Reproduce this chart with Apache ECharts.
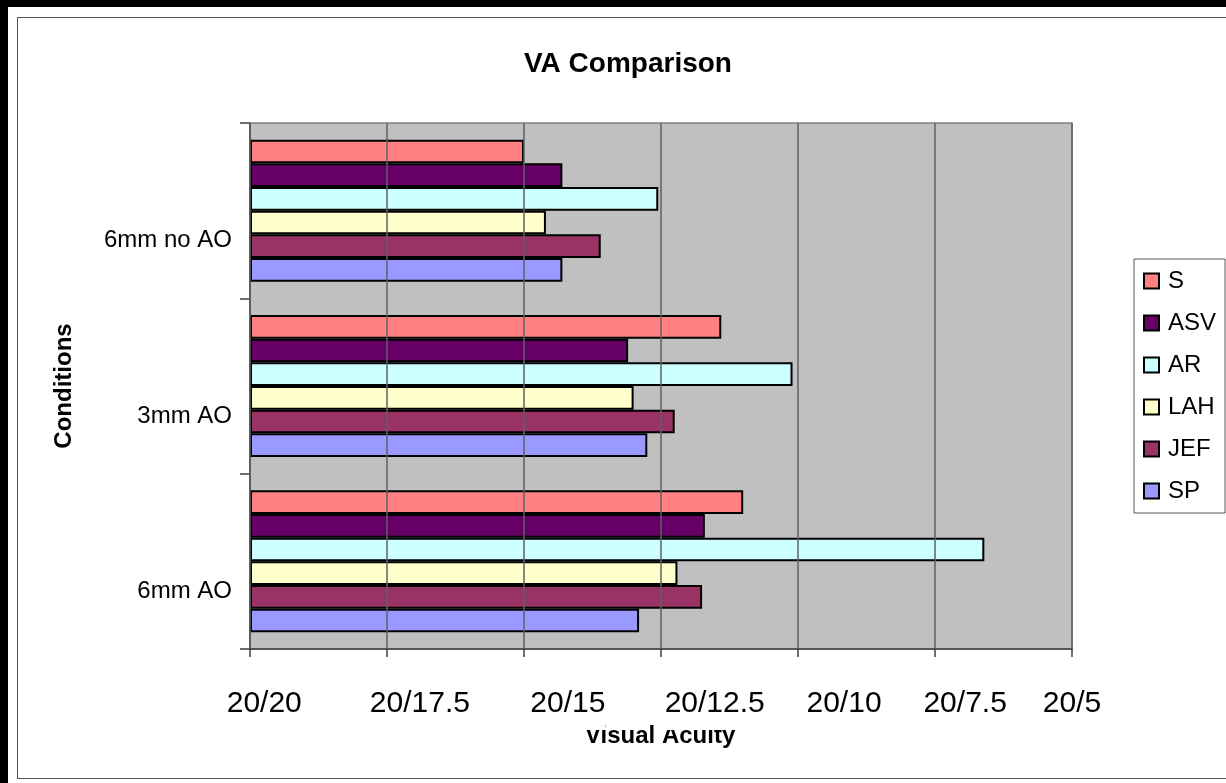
<!DOCTYPE html>
<html>
<head>
<meta charset="utf-8">
<script src="https://cdn.jsdelivr.net/npm/echarts@6/dist/echarts.min.js"></script>
<style>
  html, body { margin: 0; padding: 0; background: #000; }
  #paper { position: absolute; left: 8px; top: 7px; width: 1218px; height: 776px; background: #fff; }
  #frame { position: absolute; left: 17px; top: 17px; width: 1220px; height: 762px; border: 1px solid #555; box-sizing: border-box; }
  #chart { position: absolute; left: 0; top: 0; width: 1226px; height: 783px; }
</style>
</head>
<body>
<div id="paper"></div>
<div id="frame"></div>
<div id="chart"></div>
<script>
// categories listed bottom to top, as the horizontal bar axis draws them
const conditions = ['6mm AO', '3mm AO', '6mm no AO'];

// measured acuity, as the denominator of 20/x
const S   = [11.0, 11.4, 15.0];
const ASV = [11.7, 13.1, 14.3];
const AR  = [6.6, 10.1, 12.55];
const LAH = [12.2, 13.0, 14.6];
const JEF = [11.75, 12.25, 13.6];
const SP  = [12.9, 12.75, 14.3];

const subjects = ['S', 'ASV', 'AR', 'LAH', 'JEF', 'SP'];
const subjectColors = ['#FF8080', '#660066', '#CCFFFF', '#FFFFCC', '#993366', '#9999FF'];
const subjectData = [S, ASV, AR, LAH, JEF, SP];

// tick labels, one per 2.5 step of the axis
const tickValues = [0, 2.5, 5, 7.5, 10, 12.5, 15];
const acuityTicks = ['20/20', '20/17.5', '20/15', '20/12.5', '20/10', '20/7.5', '20/5'];
// the labels sit a little right of their ticks in the original (in axis units)
const labelShift = [0.26, 0.6, 0.8, 0.98, 0.84, 0.55, 0];

const FONT = 'Liberation Sans, Arial, sans-serif';
const chart = echarts.init(document.getElementById('chart'));

const series = subjects.map((name, i) => ({
  name: name,
  type: 'bar',
  barGap: '0%',
  barCategoryGap: '19%',
  data: subjectData[i].map(d => +(20 - d).toFixed(2)),
  itemStyle: { color: subjectColors[i], borderColor: '#000', borderWidth: 2 },
}));

const labelValues = tickValues.map((v, i) => v + labelShift[i]);

const option = {
  animation: false,
  backgroundColor: 'transparent',
  title: [
    {
      text: 'VA Comparison',
      left: 519, top: 45,
      textStyle: { fontSize: 28, fontWeight: 'bold', color: '#000', fontFamily: FONT },
    },
    {
      text: 'Visual Acuity',
      left: 580, top: 719, z: 0,
      textStyle: { fontSize: 24, fontWeight: 'bold', color: '#000', fontFamily: FONT },
    },
  ],
  legend: {
    data: subjects,
    orient: 'vertical',
    left: 1134, top: 259,
    padding: [10, 9, 10, 9],
    itemGap: 18,
    itemWidth: 15,
    itemHeight: 15,
    icon: 'rect',
    backgroundColor: '#fff',
    borderColor: '#555',
    borderWidth: 1,
    borderRadius: 0,
    textStyle: { fontSize: 24, color: '#000', lineHeight: 24, padding: [0, 0, 0, 4], fontFamily: FONT },
  },
  grid: {
    left: 250, right: 154, top: 123, bottom: 134,
    show: true,
    backgroundColor: '#C0C0C0',
    borderColor: '#808080',
    borderWidth: 1.5,
  },
  xAxis: {
    type: 'value',
    min: 0, max: 15, interval: 2.5,
    z: 5,
    axisLine: { show: true, lineStyle: { color: '#404040', width: 1.5 } },
    axisTick: { show: true, length: 8, customValues: tickValues, lineStyle: { color: '#404040', width: 1.5 } },
    splitLine: { show: true, lineStyle: { color: '#606060', width: 1.5 } },
    axisLabel: {
      margin: 40,
      customValues: labelValues,
      fontSize: 30,
      lineHeight: 30,
      fontFamily: FONT,
      color: '#000',
      backgroundColor: '#fff',
      padding: [0, 0, 11, 0],
      formatter: (v) => acuityTicks[Math.round((v - 0.4) / 2.5)] || acuityTicks[Math.round(v / 2.5)],
    },
  },
  yAxis: {
    type: 'category',
    data: conditions,
    name: 'Conditions',
    nameLocation: 'middle',
    nameRotate: 90,
    nameGap: 174,
    nameTextStyle: { fontSize: 24, fontWeight: 'bold', color: '#000', fontFamily: FONT },
    axisLine: { show: true, lineStyle: { color: '#404040', width: 1.5 } },
    axisTick: { show: true, length: 10, lineStyle: { color: '#404040', width: 1.5 } },
    splitLine: { show: false },
    axisLabel: {
      fontSize: 24, color: '#000', margin: 18, fontFamily: FONT,
      verticalAlign: 'top', lineHeight: 60,
    },
  },
  series: series,
};

chart.setOption(option);
</script>
</body>
</html>
